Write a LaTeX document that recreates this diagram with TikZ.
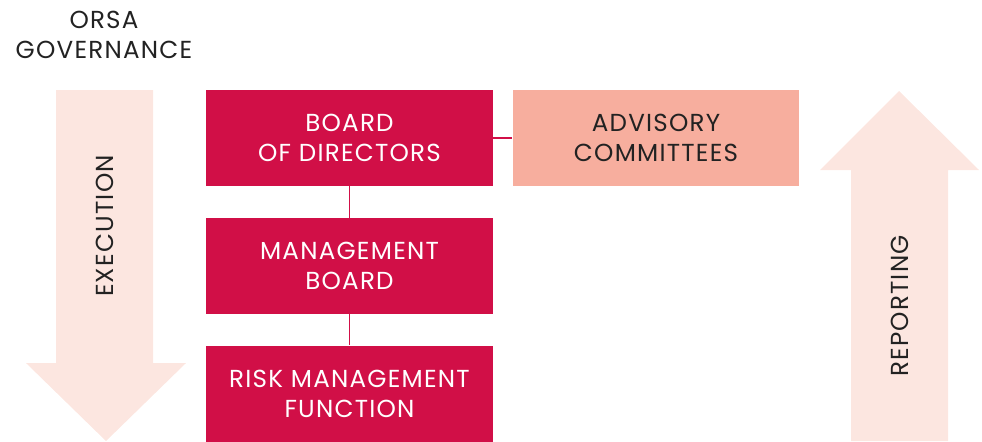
\documentclass[tikz,border=0pt]{standalone}
\usepackage{fontspec}
\setmainfont[LetterSpace=5]{Poppins}
\usetikzlibrary{calc}
\definecolor{crimson}{HTML}{D10F47}
\definecolor{salmon}{HTML}{F7AE9E}
\definecolor{blush}{HTML}{FCE6E0}
\definecolor{ink}{HTML}{222222}
\tikzset{
	unitbox/.style={minimum width=5.74cm,minimum height=1.92cm,inner sep=0pt,
		align=center,font=\fontsize{14}{17}\selectfont},
	redbox/.style={unitbox,fill=crimson,text=white},
	pinkbox/.style={unitbox,fill=salmon,text=ink},
	link/.style={draw=crimson,line width=0.6pt},
	label/.style={font=\fontsize{14}{17}\selectfont,text=ink,align=center}
}
\begin{document}
\begin{tikzpicture}[x=0.02cm,y=-0.02cm]
				% frame of the picture
				\useasboundingbox (0,0) rectangle (982,441);
				% the two arrows
				\fill[blush] (56,90) -- (153,90) -- (153,363) -- (186,363) -- (106,441)
					-- (26,363) -- (56,363) -- cycle;
				\fill[blush] (851,441) -- (851,170) -- (820,170) -- (899,91)
					-- (979,170) -- (948,170) -- (948,441) -- cycle;
				\node[label,rotate=90] (exec) at (105,226) {EXECUTION};
				\node[label,rotate=90] (report) at (900,306) {REPORTING};
				\node[label] (title) at (104,35) {ORSA\\GOVERNANCE};
				% the boxes
				\node[redbox] (board) at (349.5,138) {BOARD\\OF DIRECTORS};
				\node[pinkbox] (advisory) at (656,138) {ADVISORY\\COMMITTEES};
				\node[redbox] (mgmt) at (349.5,266) {MANAGEMENT\\BOARD};
				\node[redbox] (risk) at (349.5,393.5) {RISK MANAGEMENT\\FUNCTION};
				\draw[link] (board) -- (advisory);
				\foreach \upper/\lower in {board/mgmt,mgmt/risk}
				\draw[link] (\upper) -- (\lower);
			\end{tikzpicture}
\end{document}
